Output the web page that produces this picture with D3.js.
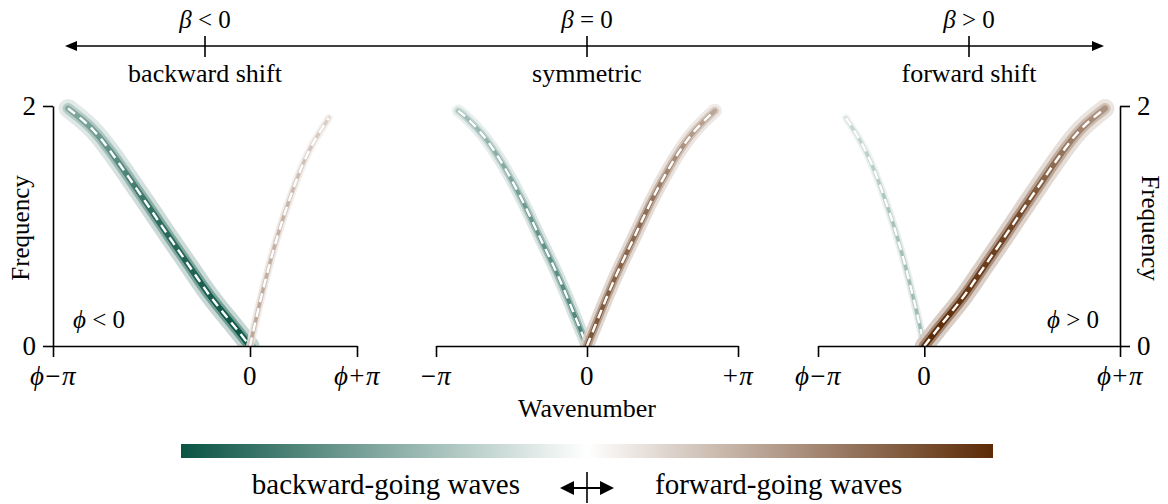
<!DOCTYPE html>
<html lang="en">
<head>
<meta charset="UTF-8">
<title>Shifted dispersion</title>
<script src="https://d3js.org/d3.v7.min.js"></script>
<style>
  body { margin: 0; background: #fff; }
  text { font-family: "Liberation Serif", serif; fill: #000; }
  .tick text { font-size: 27px; }
  .domain, .tick line { stroke: #000; stroke-width: 1.6px; }
</style>
</head>
<body>
<svg id="fig" width="1168" height="504"></svg>
<script>
// values
const phiShift = [-0.93, 0, 0.93];          // centre of each panel's wavenumber axis
const shiftTicks = ["β < 0", "β = 0", "β > 0"];
const shiftNames = ["backward shift", "symmetric", "forward shift"];
const xTickLabels = [["ϕ−π", "0", "ϕ+π"], ["−π", "0", "+π"], ["ϕ−π", "0", "ϕ+π"]];
const yTicks = [0, 2];
const phiNotes = ["ϕ < 0", "", "ϕ > 0"];

// branches as [wavenumber, frequency]
const backward1 = [[-3.76, 1.98], [-3.57, 1.92], [-3.24, 1.81], [-2.89, 1.63], [-2.48, 1.39], [-2.07, 1.15],
                   [-1.66, 0.90], [-1.24, 0.66], [-0.83, 0.41], [-0.41, 0.21], [0, 0]];
const forward1  = [[0, 0], [0.21, 0.38], [0.42, 0.71], [0.62, 0.99], [0.83, 1.24], [1.03, 1.46],
                   [1.24, 1.65], [1.45, 1.79], [1.63, 1.90]];
const backward2 = [[-2.68, 1.96], [-2.60, 1.94], [-2.16, 1.77], [-1.75, 1.52], [-1.33, 1.21], [-0.98, 0.90],
                   [-0.62, 0.61], [-0.29, 0.29], [0, 0]];
const forward2  = [[0, 0], [0.29, 0.29], [0.62, 0.61], [0.98, 0.90], [1.33, 1.21], [1.75, 1.52],
                   [2.16, 1.77], [2.60, 1.94], [2.66, 1.96]];
const backward3 = [[-1.63, 1.90], [-1.45, 1.79], [-1.24, 1.65], [-1.03, 1.46], [-0.83, 1.24], [-0.62, 0.99],
                   [-0.42, 0.71], [-0.21, 0.38], [0, 0]];
const forward3  = [[0, 0], [0.41, 0.21], [0.83, 0.41], [1.24, 0.66], [1.66, 0.90], [2.07, 1.15],
                   [2.48, 1.39], [2.89, 1.63], [3.24, 1.81], [3.57, 1.92], [3.76, 1.98]];
// signed colour weight of each branch (negative = backward-going)
const weights = [[-1, 0.42], [-0.72, 0.8], [-0.42, 1]];

const branches = [[backward1, forward1], [backward2, forward2], [backward3, forward3]];

const svg = d3.select("#fig");
const defs = svg.append("defs");

const cmap = d3.scaleLinear()
    .domain([-1, 0, 1])
    .range(["#0a5444", "#ffffff", "#5c2a06"]);

const panelRange = [[53, 357], [436, 738], [818, 1120]];
const yScale = d3.scaleLinear().domain([0, 2]).range([346, 106]);

// put greek letters in italics
function mathText(sel, str) {
    sel.text(null);
    for (const ch of str) {
        sel.append("tspan")
            .style("font-style", /[α-ωϕ]/.test(ch) ? "italic" : "normal")
            .text(ch);
    }
}

const layers = [
    { w: 19, f: 0.28, op: 0.85 },
    { w: 11, f: 0.6, op: 0.95 },
    { w: 6, f: 1.0, op: 1 }
];

// keep the bands above the wavenumber axis
defs.append("clipPath").attr("id", "above")
    .append("rect")
    .attr("x", 0).attr("y", 0)
    .attr("width", 1168).attr("height", yScale(0));

panelRange.forEach((rng, p) => {
    const phi = phiShift[p];
    const x = d3.scaleLinear().domain([phi - Math.PI, phi + Math.PI]).range(rng);
    const g = svg.append("g").attr("clip-path", "url(#above)");

    const line = d3.line()
        .x(d => x(d[0]))
        .y(d => yScale(d[1]))
        .curve(d3.curveBasis);

    branches[p].forEach((data, b) => {
        const s = weights[p][b];
        const sz = 0.3 + 0.7 * s * s;
        layers.forEach((L, li) => {
            const id = "grad-" + p + "-" + b + "-" + li;
            const grad = defs.append("linearGradient")
                .attr("id", id)
                .attr("gradientUnits", "userSpaceOnUse")
                .attr("x1", 0).attr("x2", 0)
                .attr("y1", yScale(0)).attr("y2", yScale(2));
            grad.append("stop").attr("offset", 0).attr("stop-color", cmap(s * L.f));
            grad.append("stop").attr("offset", 0.55).attr("stop-color", cmap(s * L.f * 0.85));
            grad.append("stop").attr("offset", 1).attr("stop-color", cmap(s * L.f * 0.5));
            g.append("path")
                .datum(data)
                .attr("d", line)
                .attr("fill", "none")
                .attr("stroke", "url(#" + id + ")")
                .attr("stroke-opacity", L.op)
                .attr("stroke-width", Math.max(3, L.w * sz))
                .attr("stroke-linecap", "round")
                .attr("stroke-linejoin", "round");
        });
        g.append("path")
            .datum(data)
            .attr("d", line)
            .attr("fill", "none")
            .attr("stroke", "#fff")
            .attr("stroke-width", 2.4)
            .attr("stroke-dasharray", "9 6");
    });

    // wavenumber axis
    const ticks = [phi - Math.PI, 0, phi + Math.PI];
    const xAxis = svg.append("g")
        .attr("transform", "translate(0," + yScale(0) + ")")
        .call(d3.axisBottom(x).tickValues(ticks).tickSize(11).tickSizeOuter(0).tickPadding(9));
    xAxis.selectAll(".tick text")
        .style("letter-spacing", "1.5px")
        .each(function (d, i) {
            mathText(d3.select(this), xTickLabels[p][i]);
        });

    // frequency axes on outer panels
    if (p !== 1) {
        const axis = p === 0 ? d3.axisLeft(yScale) : d3.axisRight(yScale);
        svg.append("g")
            .attr("transform", "translate(" + (p === 0 ? rng[0] : rng[1]) + ",0)")
            .call(axis.tickValues(yTicks).tickFormat(d3.format("d")).tickSize(10).tickSizeOuter(0).tickPadding(7));
    }

    if (phiNotes[p]) {
        const t = svg.append("text")
            .attr("x", p === 0 ? 73 : 1099)
            .attr("y", 328)
            .attr("text-anchor", p === 0 ? "start" : "end")
            .style("font-size", "25px");
        mathText(t, phiNotes[p]);
    }

    // shift indicator on top
    const cx = (rng[0] + rng[1]) / 2;
    svg.append("line")
        .attr("x1", cx).attr("x2", cx)
        .attr("y1", 36).attr("y2", 57)
        .attr("stroke", "#000").attr("stroke-width", 1.6);
    const tt = svg.append("text")
        .attr("x", cx).attr("y", 28)
        .attr("text-anchor", "middle")
        .style("font-size", "25px");
    mathText(tt, shiftTicks[p]);
    svg.append("text")
        .attr("x", cx).attr("y", 82)
        .attr("text-anchor", "middle")
        .style("font-size", "26px")
        .text(shiftNames[p]);
});

// top double arrow
svg.append("line")
    .attr("x1", 70).attr("x2", 1098)
    .attr("y1", 46).attr("y2", 46)
    .attr("stroke", "#000").attr("stroke-width", 1.6);
svg.append("path").attr("d", "M65,46 L77,41 L77,51 Z").attr("fill", "#000");
svg.append("path").attr("d", "M1104,46 L1092,41 L1092,51 Z").attr("fill", "#000");

// axis titles
svg.append("text")
    .attr("transform", "translate(29,228) rotate(-90)")
    .attr("text-anchor", "middle")
    .style("font-size", "25px")
    .text("Frequency");
svg.append("text")
    .attr("transform", "translate(1142,228) rotate(90)")
    .attr("text-anchor", "middle")
    .style("font-size", "25px")
    .text("Frequency");
svg.append("text")
    .attr("x", 587).attr("y", 417)
    .attr("text-anchor", "middle")
    .style("font-size", "26px")
    .text("Wavenumber");

// colour bar
const barGrad = defs.append("linearGradient").attr("id", "bar");
d3.range(-1, 1.001, 0.1).forEach(v => {
    barGrad.append("stop").attr("offset", (v + 1) / 2).attr("stop-color", cmap(v));
});
svg.append("rect")
    .attr("x", 181).attr("y", 444)
    .attr("width", 812).attr("height", 14)
    .attr("fill", "url(#bar)");

svg.append("text")
    .attr("x", 520).attr("y", 494)
    .attr("text-anchor", "end")
    .style("font-size", "29px")
    .text("backward-going waves");
svg.append("text")
    .attr("x", 655).attr("y", 494)
    .attr("text-anchor", "start")
    .style("font-size", "29px")
    .text("forward-going waves");

svg.append("line")
    .attr("x1", 568).attr("x2", 606)
    .attr("y1", 488).attr("y2", 488)
    .attr("stroke", "#000").attr("stroke-width", 2);
svg.append("line")
    .attr("x1", 587).attr("x2", 587)
    .attr("y1", 472).attr("y2", 503)
    .attr("stroke", "#000").attr("stroke-width", 1.6);
svg.append("path").attr("d", "M560,488 L574,481 L574,495 Z").attr("fill", "#000");
svg.append("path").attr("d", "M614,488 L600,481 L600,495 Z").attr("fill", "#000");
</script>
</body>
</html>
